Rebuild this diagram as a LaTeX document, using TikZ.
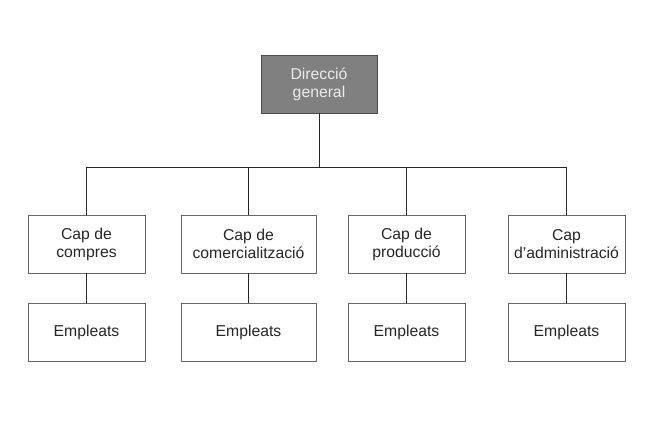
\documentclass[tikz,border=0pt]{standalone}
\usepackage{fontspec}
\setmainfont{Liberation Sans}
\begin{document}
\begin{tikzpicture}[x=1bp,y=-1bp,
  box/.style={draw=black!60, line width=0.9bp, fill=white, minimum height=58bp, align=center, inner sep=0pt, font=\fontsize{15.8}{18}\selectfont, text=black!85},
  topbox/.style={box, fill=black!50, draw=black!70, text=black!8},
  link/.style={draw=black!85, line width=1bp}]
\fill[white] (0,0) rectangle (659,441);
\useasboundingbox (0,0) rectangle (659,441);
\node[topbox, minimum width=116bp] (top) at (319,84) {Direcció\\general};
\node[box, minimum width=117bp] (b1) at (86.5,244) {Cap de\\compres};
\node[box, minimum width=135bp] (b2) at (248.5,244) {Cap de\\comercialització};
\node[box, minimum width=117bp] (b3) at (406.5,244) {Cap de\\producció};
\node[box, minimum width=117bp] (b4) at (566.5,244) {Cap\\d’administració};
\node[box, minimum width=117bp] (e1) at (86.5,332) {Empleats};
\node[box, minimum width=135bp] (e2) at (248.5,332) {Empleats};
\node[box, minimum width=117bp] (e3) at (406.5,332) {Empleats};
\node[box, minimum width=117bp] (e4) at (566.5,332) {Empleats};
\coordinate (bus) at (319,168);
\draw[link] (top.south) -- (bus);
\draw[link] (b1.north) -- (b1.north |- bus) -- (b4.north |- bus) -- (b4.north);
\draw[link] (b2.north) -- (b2.north |- bus);
\draw[link] (b3.north) -- (b3.north |- bus);
\foreach \i in {1,2,3,4} \draw[link] (b\i.south) -- (e\i.north);
\end{tikzpicture}
\end{document}
